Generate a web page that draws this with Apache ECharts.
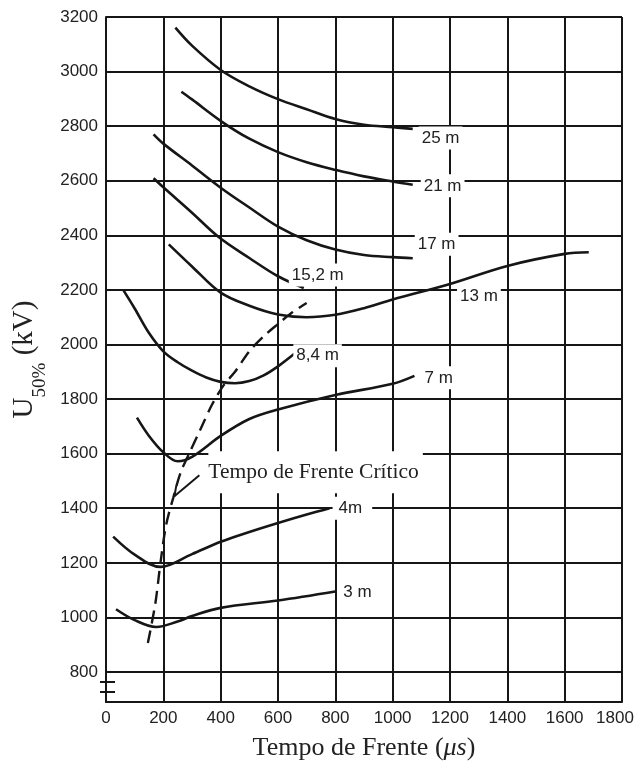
<!DOCTYPE html>
<html>
<head>
<meta charset="utf-8">
<script src="https://cdn.jsdelivr.net/npm/echarts@6/dist/echarts.min.js"></script>
<style>
  html, body { margin: 0; padding: 0; background: #fff; }
  #chart { width: 635px; height: 767px; }
</style>
</head>
<body>
<div id="chart"></div>
<script>
// Axis ticks
const xTicks = [0, 200, 400, 600, 800, 1000, 1200, 1400, 1600, 1800];
const yTicks = [800, 1000, 1200, 1400, 1600, 1800, 2000, 2200, 2400, 2600, 2800, 3000, 3200];

// U50% (kV) versus front time (µs), one curve per gap length
const gap25 = [[242,3161],[300,3095],[400,3006],[500,2946],[600,2899],[700,2862],[800,2826],[900,2805],[1000,2796],[1070,2790]];
const gap21 = [[263,2926],[300,2898],[406,2815],[500,2754],[600,2705],[700,2668],[800,2640],[900,2616],[1000,2597],[1070,2585]];
const gap17 = [[166,2770],[200,2736],[300,2656],[406,2570],[500,2502],[600,2432],[700,2382],[800,2348],[900,2328],[1000,2320],[1070,2316]];
const gap15_2 = [[166,2609],[200,2576],[300,2483],[394,2393],[500,2317],[600,2250],[690,2207]];
const gap13 = [[219,2367],[300,2286],[400,2190],[500,2142],[600,2110],[700,2100],[800,2109],[900,2133],[1000,2165],[1200,2222],[1400,2288],[1600,2332],[1684,2338]];
const gap8_4 = [[60,2200],[100,2132],[150,2042],[200,1975],[250,1935],[300,1904],[350,1879],[400,1863],[450,1858],[500,1866],[550,1887],[600,1920],[657,1966]];
const gap7 = [[108,1732],[150,1665],[200,1605],[250,1572],[300,1588],[400,1665],[500,1727],[600,1762],[800,1815],[1000,1856],[1076,1885]];
const gap4 = [[25,1296],[100,1230],[190,1185],[300,1232],[400,1277],[500,1313],[600,1346],[700,1377],[780,1400]];
const gap3 = [[35,1030],[100,990],[175,965],[250,985],[300,1005],[400,1035],[600,1062],[800,1095]];

// Critical front time (locus of the minima)
const critical = [[146,906],[172,1050],[190,1200],[210,1340],[235,1440],[260,1530],[290,1600],[330,1690],[370,1780],[410,1850],[450,1900],[500,1975],[550,2030],[600,2075],[650,2118],[700,2152]];

const curveNames = ['25 m', '21 m', '17 m', '15,2 m', '13 m', '8,4 m', '7 m', '4m', '3 m'];
const curveData = [gap25, gap21, gap17, gap15_2, gap13, gap8_4, gap7, gap4, gap3];
const criticalName = 'Tempo de Frente Crítico';

const INK = '#161616';
const TEXT = '#222';
const SANS = "'Liberation Sans', Arial, sans-serif";
const SERIF = "'Liberation Serif', 'Times New Roman', serif";

// where each curve's name sits: which point it is tied to, and a pixel nudge
const labelPlace = [
  { at: -1, offset: [1, 9] },
  { at: -1, offset: [3, 1] },
  { at: -1, offset: [-3, -14] },
  { at: -1, offset: [-20, -13] },
  { at: 9,  offset: [2, 12] },
  { at: -1, offset: [-6, 2] },
  { at: -1, offset: [2, 2] },
  { at: -1, offset: [-2, 0], padding: [3, 10, 3, 6] },
  { at: -1, offset: [0, 1] }
];

function curveSeries(name, data, place) {
  const idx = place.at < 0 ? data.length + place.at : place.at;
  return {
    type: 'line',
    name: name,
    smooth: 0.35,
    showSymbol: true,
    symbol: 'circle',
    symbolSize: 0,
    lineStyle: { color: INK, width: 2.6 },
    itemStyle: { color: INK },
    emphasis: { disabled: true },
    data: data.map((p, i) => i === idx ? {
      value: p,
      label: {
        show: true,
        formatter: name,
        position: 'right',
        distance: 5,
        offset: place.offset,
        fontFamily: SANS,
        fontSize: 17,
        color: TEXT,
        backgroundColor: '#fff',
        padding: place.padding || [3, 3, 3, 3]
      }
    } : { value: p })
  };
}

const series = curveData.map((d, i) => curveSeries(curveNames[i], d, labelPlace[i]));

const critIndex = 4;
series.push({
  type: 'line',
  name: criticalName,
  smooth: 0.3,
  showSymbol: true,
  symbol: 'circle',
  symbolSize: 0,
  lineStyle: { color: INK, width: 2.4, type: [13, 7] },
  itemStyle: { color: INK },
  emphasis: { disabled: true },
  data: critical.map((p, i) => i === critIndex ? {
    value: p,
    label: {
      show: true,
      formatter: criticalName,
      position: 'right',
      distance: 5,
      offset: [30, -25],
      fontFamily: SERIF,
      fontSize: 21.5,
      color: TEXT,
      backgroundColor: '#fff',
      padding: [10, 4, 10, 0]
    }
  } : { value: p })
});

const chart = echarts.init(document.getElementById('chart'), null, { renderer: 'canvas' });

chart.setOption({
  animation: false,
  backgroundColor: '#fff',
  grid: { left: 106, right: 13, top: 17, bottom: 65, containLabel: false, outerBoundsMode: 'none' },
  xAxis: {
    type: 'value',
    min: 0,
    max: 1800,
    interval: 200,
    axisLine: { show: true, lineStyle: { color: INK, width: 2 } },
    axisTick: { show: false },
    splitLine: { show: true, lineStyle: { color: INK, width: 2 } },
    axisLabel: {
      fontFamily: SANS, fontSize: 17, color: TEXT, margin: 8,
      formatter: v => v === xTicks[xTicks.length - 1] ? '{e|' + v + '}' : String(v),
      rich: { e: { fontFamily: SANS, fontSize: 17, color: TEXT, padding: [0, 14, 0, 0] } }
    },
    name: '{n|Tempo de Frente (}{i|μs}{n|)}',
    nameLocation: 'middle',
    nameGap: 33,
    nameTextStyle: {
      rich: {
        n: { fontFamily: SERIF, fontSize: 26, color: TEXT },
        i: { fontFamily: SERIF, fontSize: 26, fontStyle: 'italic', color: TEXT }
      }
    }
  },
  yAxis: {
    type: 'value',
    min: 690,
    max: 3200,
    axisLine: { show: true, lineStyle: { color: INK, width: 2 } },
    axisTick: { show: false, customValues: yTicks },
    splitLine: { show: true, lineStyle: { color: INK, width: 2 } },
    axisLabel: {
      customValues: yTicks, fontFamily: SANS, fontSize: 17, color: TEXT, margin: 8,
      formatter: v => String(v)
    },
    name: '{u|U}{s|50%}{u| (kV)}',
    nameLocation: 'middle',
    nameRotate: 90,
    nameGap: 52,
    nameTextStyle: {
      rich: {
        u: { fontFamily: SERIF, fontSize: 29, color: TEXT, verticalAlign: 'middle' },
        s: { fontFamily: SERIF, fontSize: 19, color: TEXT, verticalAlign: 'middle', padding: [31, 0, 0, 0] }
      }
    }
  },
  series: series
});

// leader arrow from the critical-time label to its curve, and the axis break mark
function drawAnnotations() {
  const tip = chart.convertToPixel({ seriesIndex: series.length - 1 }, critical[critIndex]);
  const origin = chart.convertToPixel({ gridIndex: 0 }, [0, 690]);
  chart.setOption({
    graphic: [
      {
        type: 'line',
        shape: { x1: tip[0] + 26, y1: tip[1] - 22, x2: tip[0] + 1, y2: tip[1] - 1 },
        style: { stroke: INK, lineWidth: 2 },
        z: 10
      },
      {
        type: 'line',
        shape: { x1: tip[0] + 1, y1: tip[1] - 1, x2: tip[0] + 3, y2: tip[1] - 12 },
        style: { stroke: INK, lineWidth: 2 },
        z: 10
      },
      {
        type: 'line',
        shape: { x1: origin[0] - 6, y1: origin[1] - 20, x2: origin[0] + 9, y2: origin[1] - 20 },
        style: { stroke: INK, lineWidth: 2 },
        z: 10
      },
      {
        type: 'line',
        shape: { x1: origin[0] - 6, y1: origin[1] - 10, x2: origin[0] + 9, y2: origin[1] - 10 },
        style: { stroke: INK, lineWidth: 2 },
        z: 10
      }
    ]
  });
}
drawAnnotations();
</script>
</body>
</html>
